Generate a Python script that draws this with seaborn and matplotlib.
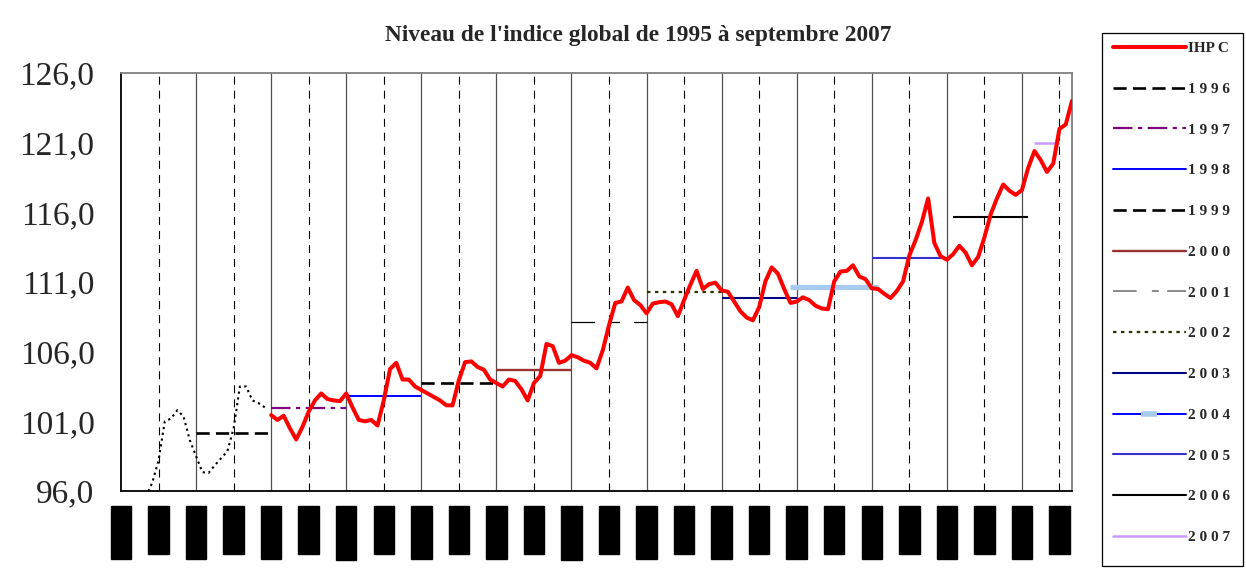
import matplotlib
matplotlib.use('Agg')
import matplotlib.pyplot as plt
import matplotlib.transforms as mtrans
from matplotlib.lines import Line2D
from matplotlib.patches import Rectangle
import seaborn as sns
import pandas as pd

# ---------------- data ----------------
title = "Niveau de l'indice global de 1995 à septembre 2007"

# IHPC monthly index, Jan 1997 .. Sep 2007 (x = months since Jan 1995)
ihpc_start_month = 24
ihpc_values = [
    101.45, 101.1, 101.4, 100.5, 99.7, 100.6, 101.7, 102.5, 103.0, 102.6, 102.5, 102.45,
    103.0, 102.0, 101.1, 101.0, 101.1, 100.7, 102.5, 104.75, 105.2, 104.0, 104.0, 103.5,
    103.25, 103.0, 102.75, 102.5, 102.15, 102.15, 103.95, 105.25, 105.3, 104.9, 104.7, 104.0,
    103.75, 103.5, 104.0, 103.9, 103.3, 102.5, 103.75, 104.25, 106.55, 106.4, 105.2, 105.35,
    105.75, 105.6, 105.35, 105.2, 104.8, 106.1, 107.9, 109.5, 109.6, 110.6, 109.7, 109.35,
    108.75, 109.45, 109.55, 109.6, 109.4, 108.55, 109.7, 110.8, 111.8, 110.5, 110.85, 110.95,
    110.4, 110.3, 109.6, 108.9, 108.45, 108.25, 109.2, 111.05, 112.05, 111.6, 110.5, 109.5,
    109.6, 109.9, 109.7, 109.3, 109.1, 109.05, 111.05, 111.75, 111.8, 112.2, 111.4, 111.2,
    110.55, 110.5, 110.15, 109.85, 110.35, 111.05, 112.9, 114.0, 115.3, 117.0, 113.8, 112.85,
    112.6, 113.0, 113.6, 113.1, 112.2, 112.8, 114.2, 115.85, 117.0, 118.0, 117.55, 117.25,
    117.6, 119.2, 120.4, 119.75, 118.9, 119.5, 122.0, 122.3, 124.0,
]

# earlier index 1995-1996 (dotted), May 1995 .. Dec 1996
early_start_month = 4
early_values = [95.6, 96.6, 98.2, 101.0, 101.2, 101.8, 101.35, 99.65,
                98.5, 97.35, 97.3, 97.85, 98.35, 98.85, 100.5, 103.5, 103.5, 102.5, 102.3, 102.0]

# annual levels
avg_years = ['1996', '1997', '1998', '1999', '2000', '2001', '2002', '2003', '2004', '2005', '2006', '2007']
avg_levels = [100.15, 101.95, 102.8, 103.77, 104.68, 108.12, 110.3, 109.82, 110.66, 112.74, 115.68, 120.98]
avg_start = [12, 24, 36, 48, 60, 72, 84, 96, 107, 120, 133, 146]
avg_end = [24, 36, 48, 60, 72, 84, 96, 108, 121, 132, 145, 150]

y_ticks = [96, 101, 106, 111, 116, 121, 126]
x_label_months = ['janv', 'juil']
first_year = 1995
n_half_years = 26
x_max = 152

# ---------------- styles ----------------
styles = {
    '1996': dict(color='black', lw=1.9, ls=(0, (9.5, 4.5))),
    '1997': dict(color='#800080', lw=1.6, ls=(0, (14, 4, 3, 4))),
    '1998': dict(color='#0000FF', lw=1.4, ls='-'),
    '1999': dict(color='black', lw=1.9, ls=(0, (9.5, 4.5))),
    '2000': dict(color='#993333', lw=1.7, ls='-'),
    '2001': dict(color='black', lw=0.9, ls=(0, (17, 11, 7, 10))),
    '2002': dict(color='#333300', lw=1.6, ls=(0, (2.5, 3.2))),
    '2003': dict(color='#000080', lw=1.5, ls='-'),
    '2004': dict(color='#A6CAF0', lw=3.8, ls='-'),
    '2005': dict(color='#3333CC', lw=1.5, ls='-'),
    '2006': dict(color='black', lw=1.5, ls='-'),
    '2007': dict(color='#CC99FF', lw=1.8, ls='-'),
}

sns.set_theme(style='white')
plt.rcParams['font.family'] = ['Liberation Serif', 'DejaVu Serif']
plt.rcParams['lines.scale_dashes'] = False

W, H = 1246, 574
fig = plt.figure(figsize=(W / 100, H / 100), dpi=100)
fig.patch.set_facecolor('white')
ax = fig.add_axes([121 / W, 1 - 491 / H, (1072 - 121) / W, (491 - 73) / H])
ax.set_facecolor('white')

# grid lines
for m in range(12, x_max, 12):
    ax.axvline(m, color='#505050', lw=0.9, zorder=1)
for m in range(6, x_max, 12):
    ax.axvline(m, color='black', lw=0.8, ls=(0, (5.8, 4.3)), zorder=1)

# early dotted series
df_early = pd.DataFrame({'month': range(early_start_month, early_start_month + len(early_values)),
                         'value': early_values})
sns.lineplot(data=df_early, x='month', y='value', ax=ax, color='black', lw=1.5,
             linestyle=(0, (1.6, 2.6)), legend=False, zorder=3)

# annual levels
for yr, lev, s, e in zip(avg_years, avg_levels, avg_start, avg_end):
    st = styles[yr]
    ax.hlines(lev, s, e, colors=st['color'], linewidth=st['lw'], linestyles=[st['ls']], zorder=3)

# IHPC
df_ihpc = pd.DataFrame({'month': range(ihpc_start_month, ihpc_start_month + len(ihpc_values)),
                        'value': ihpc_values})
sns.lineplot(data=df_ihpc, x='month', y='value', ax=ax, color='#FF0000', lw=2.9,
             legend=False, zorder=4)

ax.set_xlim(0, x_max)
ax.set_ylim(96, 126)
ax.set_xlabel('')
ax.set_ylabel('')
ax.set_yticks(y_ticks)
ax.set_yticklabels([f"{v:.1f}".replace('.', ',') for v in y_ticks], fontsize=24)
ax.set_xticks(range(0, x_max, 12))
ax.tick_params(axis='x', labelbottom=False, length=5, width=1, direction='out', color='black')
ax.tick_params(axis='y', length=10, width=1, direction='out', color='black', pad=9)

for side in ['left', 'bottom']:
    ax.spines[side].set_color('black')
    ax.spines[side].set_linewidth(1.3)
for side in ['top', 'right']:
    ax.spines[side].set_color('#808080')
    ax.spines[side].set_linewidth(1.3)

# x labels (rendered as black blocks as in the reference)
trans = mtrans.blended_transform_factory(ax.transData, ax.transAxes)
for k in range(n_half_years):
    yy = (first_year + k // 2) % 100
    lab = f"{x_label_months[k % 2]}-{yy:02d}"
    ax.text(6 * k, -0.045, lab, transform=trans, rotation=90, ha='center', va='top',
            fontsize=10.8, color='black', clip_on=False,
            bbox=dict(boxstyle='square,pad=0.25', fc='black', ec='black'))

fig.text(638.5 / W, 1 - 36 / H, title, ha='center', va='center', fontsize=16.8, fontweight='bold')

# legend
handles = [Line2D([], [], color='#FF0000', lw=2.9)]
labels = ['IHP C']
for yr in avg_years:
    st = styles[yr]
    if yr == '2004':
        h = Line2D([0], [0], color='#0000FF', lw=1.4, marker='_', markersize=11,
                   markeredgewidth=4, markeredgecolor='#A6CAF0')
    elif yr == '2001':
        h = Line2D([], [], color='#808080', lw=1.3, ls=(0, (17, 11, 5, 6)))
    else:
        h = Line2D([], [], color=st['color'], lw=min(st['lw'], 1.9), ls=st['ls'])
    handles.append(h)
    labels.append(' '.join(yr))

leg = fig.legend(handles, labels, loc='upper left', bbox_to_anchor=(1108 / W, 1 - 37 / H),
                 frameon=False,
                 prop={'weight': 'bold', 'size': 11, 'family': 'Liberation Serif'},
                 handlelength=4.8, handletextpad=0.12, labelspacing=1.77, borderpad=0.3,
                 borderaxespad=0, numpoints=1)

fig.patches.append(Rectangle((1102 / W, 1 - 566 / H), (1243 - 1102) / W, (566 - 33) / H,
                             transform=fig.transFigure, fill=False, ec='black', lw=0.9))

fig.savefig('out.png', dpi=100, facecolor='white')
